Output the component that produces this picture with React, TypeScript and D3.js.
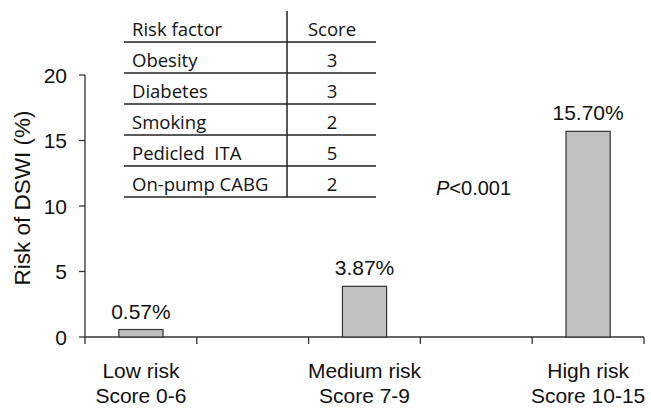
import React from "react";
import * as d3 from "d3";

const categories = ["Low risk", "Medium risk", "High risk"];
const scoreRanges = ["Score 0-6", "Score 7-9", "Score 10-15"];
const riskValues = [0.57, 3.87, 15.7];
const riskLabels = ["0.57%", "3.87%", "15.70%"];
const slotIndex = [0, 2, 4];
const slotCount = 5;
const yTicks = [0, 5, 10, 15, 20];
const tableFactors = ["Obesity", "Diabetes", "Smoking", "Pedicled  ITA", "On-pump CABG"];
const tableScores = [3, 3, 2, 5, 2];

const W = 651;
const H = 412;
const AX = 85;
const AXR = 644;
const Y0 = 337;
const YTOP = 75;

const SANS = "'Liberation Sans', Arial, sans-serif";
const TSANS = "'Open Sans', 'Noto Sans', sans-serif";

export default function App() {
  const y = d3.scaleLinear().domain([0, 20]).range([Y0, YTOP]);
  const x = d3.scaleLinear().domain([0, slotCount]).range([AX, AXR]);
  const slotW = x(1) - x(0);
  const barW = slotW * 0.395;
  const axisColor = "#333";

  const tableTop = 42;
  const rowH = 31;
  const tLeft = 124;
  const tRight = 376;
  const tDiv = 287;
  const scoreX = 332;
  const rows = d3.range(tableFactors.length);

  return (
    <svg
      width={W}
      height={H}
      style={{ position: "absolute", left: 0, top: 0, background: "#fff" }}
    >
      {/* y axis */}
      <line x1={AX} x2={AX} y1={YTOP} y2={Y0} stroke={axisColor} strokeWidth={1.3} />
      {yTicks.map((t) => (
        <g key={t}>
          <line x1={AX - 6} x2={AX} y1={y(t)} y2={y(t)} stroke={axisColor} strokeWidth={1.3} />
          <text
            x={AX - 18}
            y={y(t)}
            textAnchor="end"
            dominantBaseline="central"
            fontFamily={SANS}
            fontSize={21}
            fill="#111"
          >
            {t}
          </text>
        </g>
      ))}
      <text
        transform={`translate(30,${198}) rotate(-90)`}
        textAnchor="middle"
        fontFamily={SANS}
        fontSize={22.5}
        fill="#111"
      >
        Risk of DSWI (%)
      </text>

      {/* x axis */}
      <line x1={AX} x2={AXR} y1={Y0} y2={Y0} stroke={axisColor} strokeWidth={1.3} />
      {d3.range(slotCount + 1).map((i) => (
        <line
          key={i}
          x1={x(i)}
          x2={x(i)}
          y1={Y0}
          y2={Y0 + 7}
          stroke={axisColor}
          strokeWidth={1.3}
        />
      ))}

      {/* bars */}
      {categories.map((c, i) => {
        const cx = x(slotIndex[i] + 0.5);
        return (
          <g key={c}>
            <rect
              x={cx - barW / 2}
              y={y(riskValues[i])}
              width={barW}
              height={Y0 - y(riskValues[i])}
              fill="#c0c0c0"
              stroke="#333"
              strokeWidth={1.2}
            />
            <text
              x={cx}
              y={y(riskValues[i]) - 11}
              textAnchor="middle"
              fontFamily={SANS}
              fontSize={21}
              fill="#111"
            >
              {riskLabels[i]}
            </text>
            <text
              x={cx}
              y={378}
              textAnchor="middle"
              fontFamily={SANS}
              fontSize={21}
              fill="#111"
            >
              {c}
            </text>
            <text
              x={cx}
              y={403}
              textAnchor="middle"
              fontFamily={SANS}
              fontSize={21}
              fill="#111"
            >
              {scoreRanges[i]}
            </text>
          </g>
        );
      })}

      {/* p-value */}
      <text x={436} y={195} fontFamily={SANS} fontSize={20} fill="#111">
        <tspan fontStyle="italic">P</tspan>
        <tspan>{"<0.001"}</tspan>
      </text>

      {/* table */}
      <line x1={tDiv} x2={tDiv} y1={11} y2={tableTop + rowH * tableFactors.length} stroke="#222" strokeWidth={1.5} />
      <line x1={tLeft} x2={tRight} y1={tableTop} y2={tableTop} stroke="#222" strokeWidth={1.5} />
      <text x={132} y={tableTop - 6} fontFamily={TSANS} fontSize={18.5} fill="#111">
        Risk factor
      </text>
      <text x={scoreX} y={tableTop - 6} textAnchor="middle" fontFamily={TSANS} fontSize={18.5} fill="#111">
        Score
      </text>
      {rows.map((r) => {
        const lineY = tableTop + rowH * (r + 1);
        return (
          <g key={r}>
            <line x1={tLeft} x2={tRight} y1={lineY} y2={lineY} stroke="#222" strokeWidth={1.5} />
            <text x={132} y={lineY - 6} fontFamily={TSANS} fontSize={18.5} fill="#111" style={{ whiteSpace: "pre" }}>
              {tableFactors[r]}
            </text>
            <text x={scoreX} y={lineY - 6} textAnchor="middle" fontFamily={TSANS} fontSize={18.5} fill="#111">
              {tableScores[r]}
            </text>
          </g>
        );
      })}
    </svg>
  );
}
